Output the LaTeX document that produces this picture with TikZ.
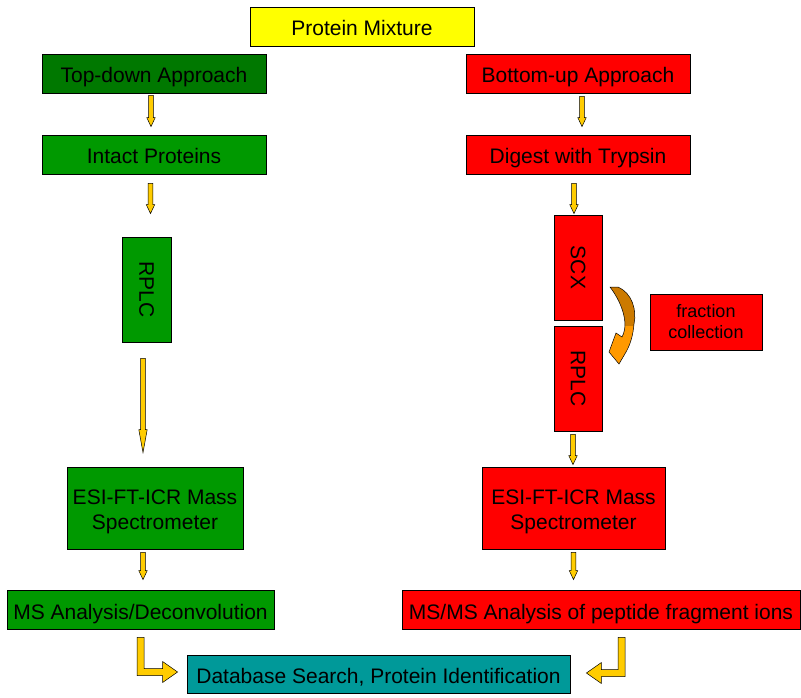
\documentclass[tikz,border=0pt]{standalone}
\usepackage{fontspec}
\setmainfont{Liberation Sans}
\usepackage{xcolor}
\usepackage{tikz}
\usetikzlibrary{calc}

\definecolor{mixyellow}{RGB}{255,255,0}
\definecolor{topgreen}{RGB}{0,120,0}
\definecolor{boxgreen}{RGB}{0,153,0}
\definecolor{boxred}{RGB}{255,0,0}
\definecolor{boxteal}{RGB}{0,153,153}
\definecolor{arrowyellow}{RGB}{255,204,0}
\definecolor{curvedark}{RGB}{204,122,0}
\definecolor{curvelight}{RGB}{255,153,0}

% two-tone fill of the fraction-collection arrow
\pgfdeclareverticalshading{fracshade}{100bp}{color(0bp)=(curvelight);
  color(50bp)=(curvelight); color(50.1bp)=(curvedark); color(100bp)=(curvedark)}

\begin{document}
\begin{tikzpicture}[
    x=1pt, y=-1pt,
    box/.style={rectangle, draw=black, line width=0.8pt, inner sep=1pt,
                minimum height=39pt, align=center,
                font=\fontsize{21}{25}\selectfont},
    oneline/.style={box, text height=21.5pt, text depth=2.5pt},
    twoline/.style={box, text height=47.7pt, text depth=4.5pt},
    wide/.style={oneline, minimum width=224pt},
    column/.style={box, minimum width=48pt, minimum height=105pt},
    green/.style={fill=boxgreen},
    red/.style={fill=boxred},
    flowhead/.store in=\flowhead, flowhead=9pt,
    flow/.style={draw=black, line width=0.5pt, fill=arrowyellow,
        to path={let \p1=(\tikztostart), \p2=(\tikztotarget) in
          (\x1-2.4pt,\y1) -- (\x1+2.4pt,\y1) -- (\x1+2.4pt,\y2+\flowhead)
          -- (\x1+4.2pt,\y2+\flowhead) -- (\x1,\y2) -- (\x1-4.2pt,\y2+\flowhead)
          -- (\x1-2.4pt,\y2+\flowhead) -- cycle}},
    bent/.style={draw=black, line width=0.5pt, fill=arrowyellow,
        to path={let \p1=(\tikztostart), \p2=(\tikztotarget),
                     \n1={sign(\x2-\x1)} in
          ({\x1-\n1*3.5pt},\y1) -- ({\x1+\n1*3.5pt},\y1)
          -- ({\x1+\n1*3.5pt},\y2+3.5pt) -- ({\x2-\n1*15pt},\y2+3.5pt)
          -- ({\x2-\n1*15pt},\y2+10.5pt) -- (\x2,\y2)
          -- ({\x2-\n1*15pt},\y2-10.5pt) -- ({\x2-\n1*15pt},\y2-3.5pt)
          -- ({\x1-\n1*3.5pt},\y2-3.5pt) -- cycle}},
]
\useasboundingbox (0,0) rectangle (801,698);

% --- source -----------------------------------------------------------
\node[wide, fill=mixyellow] (mixture)  at (362,26.5)  {Protein Mixture};

% --- top-down column ---------------------------------------------------
\node[wide, fill=topgreen]  (topdown)  at (154,73.5)  {Top-down Approach};
\node[wide, green]          (intact)   at (154,154.5) {Intact Proteins};
\node[column, green, minimum width=49pt]
                            (lrplc)    at (146.5,289.5) {\rotatebox{-90}{RPLC}};
\node[twoline, green, minimum width=176pt, minimum height=82pt]
                            (lesi)     at (155,508)   {ESI-FT-ICR Mass\\Spectrometer};
\node[oneline, green, minimum width=267pt]
                            (lms)      at (140.5,609.5) {MS Analysis/Deconvolution};

% --- bottom-up column --------------------------------------------------
\node[wide, red]            (bottomup) at (578,73.5)  {Bottom-up Approach};
\node[wide, red]            (digest)   at (578,154.5) {Digest with Trypsin};
\node[column, red]          (scx)      at (578,267.5) {\rotatebox{-90}{SCX}};
\node[column, red]          (rrplc)    at (578,378.5) {\rotatebox{-90}{RPLC}};
\node[box, red, minimum width=112pt, minimum height=56pt,
      font=\fontsize{18}{21}\selectfont]
                            (fraction) at (706,322)   {fraction\\collection};
\node[twoline, red, minimum width=183pt, minimum height=82pt]
                            (resi)     at (573.5,508) {ESI-FT-ICR Mass\\Spectrometer};
\node[oneline, red, minimum width=398pt]
                            (rms)      at (601,609.5) {MS/MS Analysis of peptide fragment ions};

% --- result ------------------------------------------------------------
\node[oneline, fill=boxteal, minimum width=383pt, minimum height=38pt]
                            (dbsearch) at (378.5,674) {Database Search, Protein Identification};

% --- block arrows, left ------------------------------------------------
\path[flow] ([xshift=-3pt,yshift=-2pt]topdown.south) to ([yshift=8pt]intact.north);
\path[flow] ([xshift=-3.5pt,yshift=-9pt]intact.south) to ([yshift=23pt]lrplc.north);
\path[flow, flowhead=23pt] ([xshift=-3.5pt,yshift=-16pt]lrplc.south) to ([yshift=14pt]lesi.north);
\path[flow] ([xshift=-12pt,yshift=-3pt]lesi.south) to ([yshift=10pt]lms.north);

% --- block arrows, right -----------------------------------------------
\path[flow] ([xshift=4pt,yshift=-3pt]bottomup.south) to ([yshift=8pt]digest.north);
\path[flow] ([xshift=-4pt,yshift=-9pt]digest.south) to ([yshift=1pt]scx.north);
\path[flow] ([xshift=-5pt,yshift=-3pt]rrplc.south) to ([yshift=2pt]resi.north);
\path[flow] ([xshift=0pt,yshift=-3pt]resi.south) to ([yshift=10pt]rms.north);

% --- into the database search ------------------------------------------
\path[bent] ([yshift=-8pt]lms.south) to ([xshift=-9pt,yshift=2pt]dbsearch.west);
\path[bent] ([xshift=20.5pt,yshift=-8pt]rms.south) to ([xshift=16pt,yshift=1pt]dbsearch.east);

% --- curved arrow SCX -> RPLC (fraction collection) --------------------
\shadedraw[shading=fracshade, draw=black, line width=0.5pt]
  (610,287) -- (618,287) .. controls (632,293) and (637,310) .. (634,324)
  .. controls (633,336) and (630,345) .. (626,352)
  -- (619,364) -- (609,352) -- (616,333) -- (622,337)
  .. controls (630,322) and (620,300) .. (610,287) -- cycle;

\end{tikzpicture}
\end{document}
